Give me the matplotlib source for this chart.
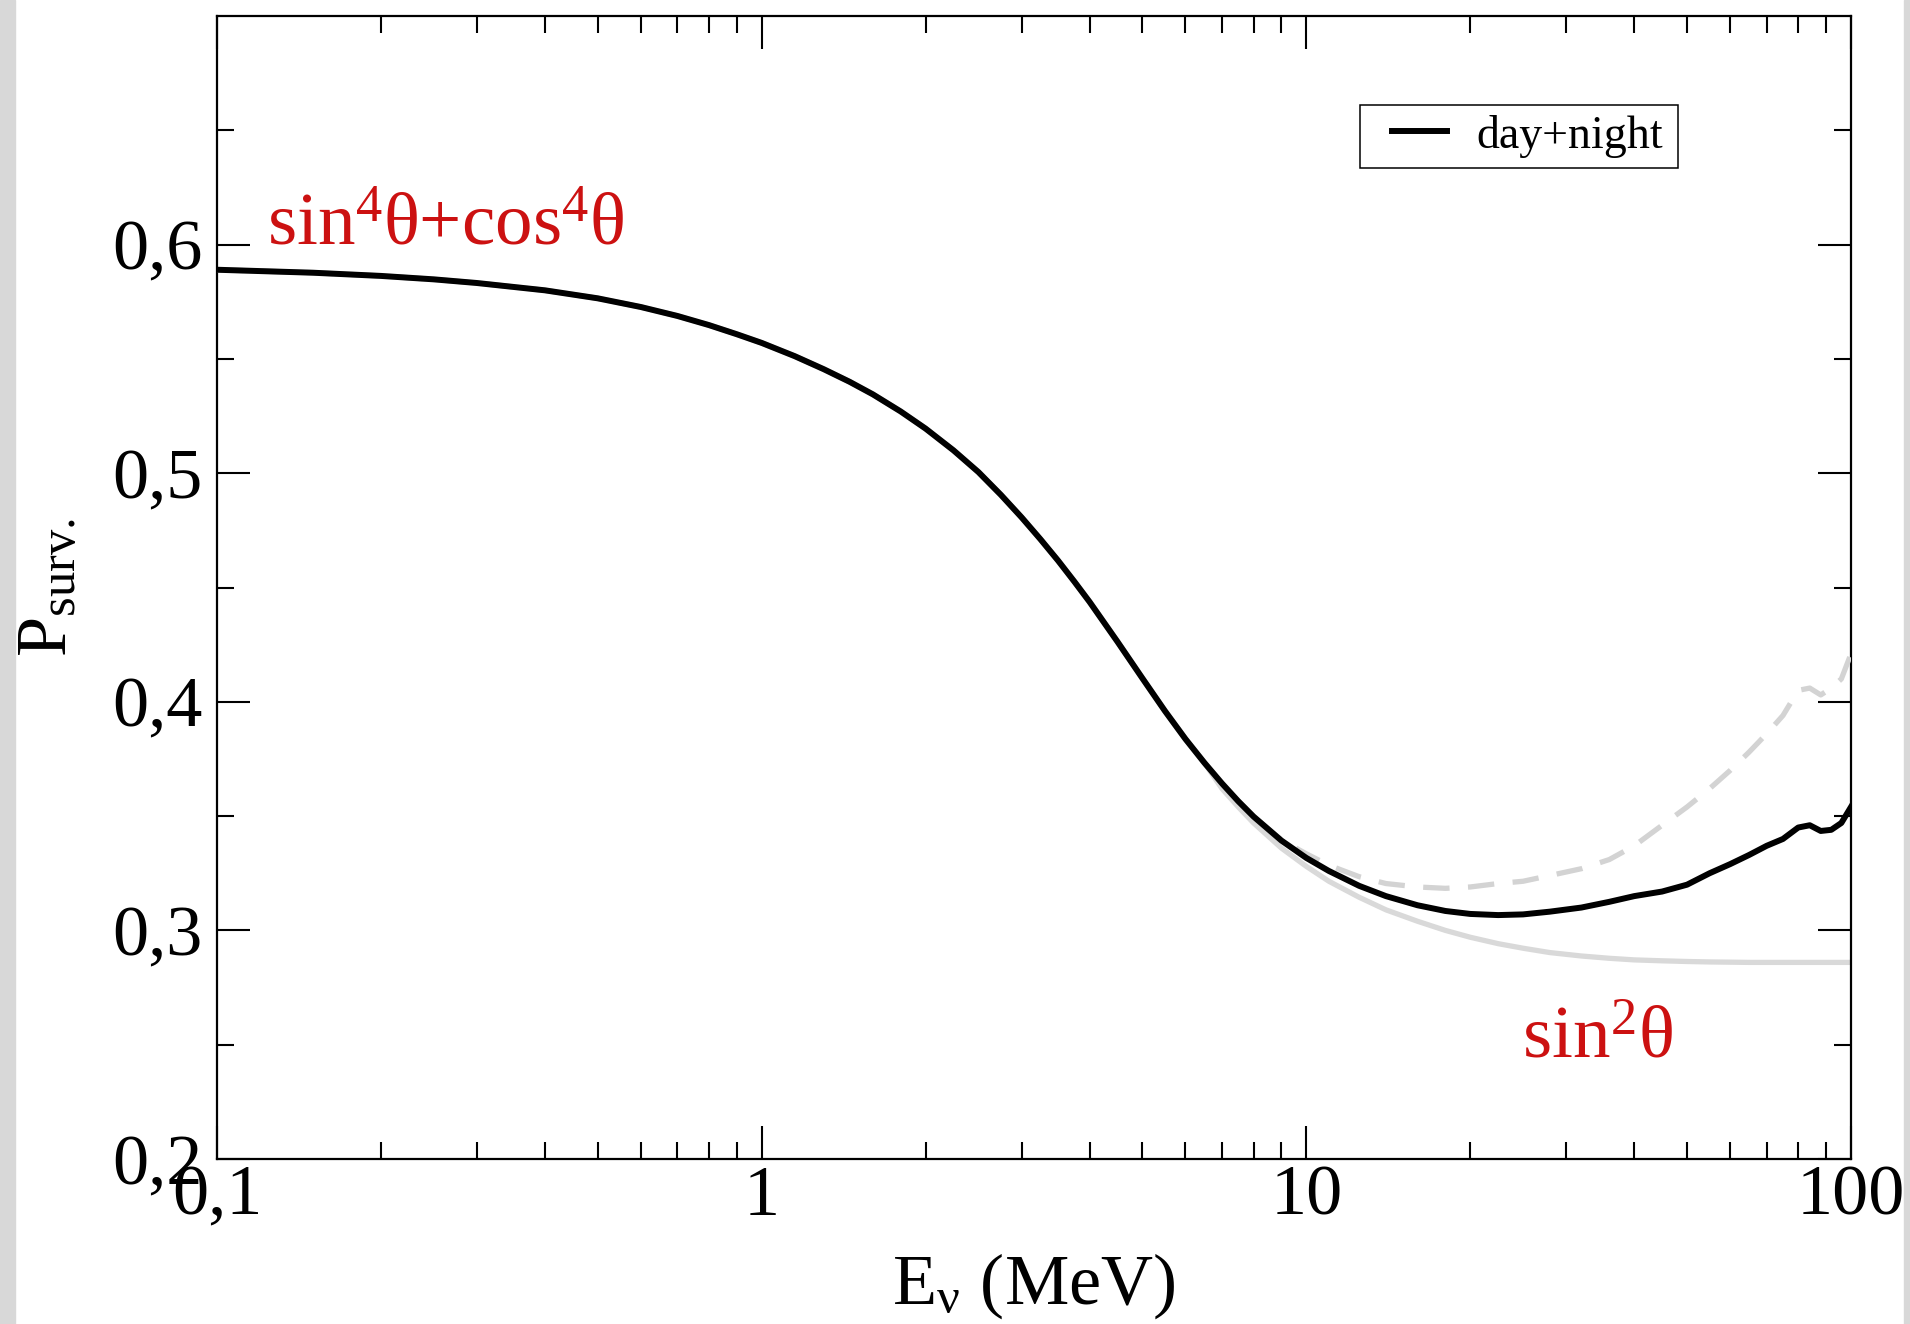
import numpy as np
import matplotlib.pyplot as plt
from matplotlib.patches import Rectangle
from matplotlib.ticker import FixedLocator, NullFormatter

plt.rcParams['font.family'] = ['Liberation Serif', 'DejaVu Serif']
plt.rcParams['mathtext.fontset'] = 'custom'
plt.rcParams['mathtext.rm'] = 'Liberation Serif'
plt.rcParams['mathtext.it'] = 'Liberation Serif'
plt.rcParams['mathtext.bf'] = 'Liberation Serif:bold'

# neutrino energy (MeV)
energy = [0.1, 0.15, 0.2, 0.25, 0.3, 0.4, 0.5, 0.6, 0.7, 0.8,
          0.9, 1.0, 1.15, 1.3, 1.45, 1.6, 1.8, 2.0, 2.25, 2.5,
          2.75, 3.0, 3.25, 3.5, 3.75, 4.0, 4.5, 5.0, 5.5, 6.0,
          6.5, 7.0, 7.5, 8.0, 9.0, 10, 11, 12.5, 14, 16,
          18, 20, 22.5, 25, 28, 32, 36, 40, 45, 50,
          55, 60, 65, 70, 75, 80, 84, 88, 92, 96,
          100]

# survival probability, day+night average (black)
p_day_night = [0.589, 0.5877, 0.5863, 0.5848, 0.5832, 0.5800, 0.5765, 0.5727, 0.5688, 0.5648,
               0.5608, 0.5570, 0.5512, 0.5455, 0.5400, 0.5345, 0.5270, 0.5195, 0.5100, 0.5005,
               0.4905, 0.4807, 0.4711, 0.4618, 0.4526, 0.4437, 0.4263, 0.4103, 0.3960, 0.3837,
               0.3733, 0.3643, 0.3565, 0.3498, 0.3393, 0.3317, 0.3260, 0.3195, 0.3150, 0.3110,
               0.3085, 0.3072, 0.3067, 0.3070, 0.3082, 0.3100, 0.3125, 0.3150, 0.3170, 0.3200,
               0.3250, 0.3290, 0.3330, 0.3370, 0.3400, 0.3450, 0.3460, 0.3435, 0.3440, 0.3470,
               0.3540]

# grey solid: without earth effect
p_no_earth = [0.589, 0.5877, 0.5863, 0.5848, 0.5832, 0.5800, 0.5765, 0.5727, 0.5688, 0.5648,
              0.5608, 0.5570, 0.5512, 0.5455, 0.5400, 0.5345, 0.5270, 0.5195, 0.5100, 0.5005,
              0.4905, 0.4807, 0.4711, 0.4618, 0.4526, 0.4437, 0.4263, 0.4103, 0.3960, 0.3837,
              0.3733, 0.3620, 0.3540, 0.3470, 0.3360, 0.3280, 0.3215, 0.3145, 0.3090, 0.3040,
              0.3000, 0.2970, 0.2942, 0.2922, 0.2903, 0.2888, 0.2878, 0.2871, 0.2867, 0.2864,
              0.2862, 0.2861, 0.2860, 0.2860, 0.2860, 0.2860, 0.2860, 0.2860, 0.2860, 0.2860,
              0.2860]

# grey dashed: night
p_night = [0.589, 0.5877, 0.5863, 0.5848, 0.5832, 0.5800, 0.5765, 0.5727, 0.5688, 0.5648,
           0.5608, 0.5570, 0.5512, 0.5455, 0.5400, 0.5345, 0.5270, 0.5195, 0.5100, 0.5005,
           0.4905, 0.4807, 0.4711, 0.4618, 0.4526, 0.4437, 0.4263, 0.4103, 0.3960, 0.3837,
           0.3733, 0.3643, 0.3565, 0.3498, 0.3395, 0.3335, 0.3285, 0.3235, 0.3205, 0.3190,
           0.3184, 0.3190, 0.3205, 0.3215, 0.3240, 0.3270, 0.3310, 0.3370, 0.3460, 0.3540,
           0.3620, 0.3700, 0.3780, 0.3860, 0.3940, 0.4050, 0.4060, 0.4030, 0.4060, 0.4100,
           0.4210]

y_ticks = [0.2, 0.3, 0.4, 0.5, 0.6]
y_labels = ['0,2', '0,3', '0,4', '0,5', '0,6']
x_ticks = [0.1, 1, 10, 100]
x_labels = ['0,1', '1', '10', '100']

fig = plt.figure(figsize=(19.1, 13.24), dpi=100)
fig.patch.set_facecolor('white')
# textured page border strips
fig.patches.append(Rectangle((0, 0), 15 / 1910, 1, transform=fig.transFigure,
                             color='#d8d8d8', zorder=0))
fig.patches.append(Rectangle((1 - 6 / 1910, 0), 6 / 1910, 1, transform=fig.transFigure,
                             color='#d8d8d8', zorder=0))

ax = fig.add_axes([217 / 1910, 1 - 1159 / 1324, 1634 / 1910, 1143 / 1324])

ax.plot(energy, p_no_earth, color='#d9d9d9', lw=3.8, zorder=2)
ln, = ax.plot(energy, p_night, color='#d3d3d3', lw=3.8, zorder=3)
ln.set_dashes([5, 3.5])
ax.plot(energy, p_day_night, color='black', lw=4.3, zorder=4, label='day+night')

ax.set_xscale('log')
ax.set_xlim(0.1, 100)
ax.set_ylim(0.2, 0.7)

ax.xaxis.set_major_locator(FixedLocator(x_ticks))
ax.set_xticklabels(x_labels)
minors = [m * d for d in [0.1, 1, 10] for m in range(2, 10)]
ax.xaxis.set_minor_locator(FixedLocator(minors))
ax.xaxis.set_minor_formatter(NullFormatter())
ax.yaxis.set_major_locator(FixedLocator(y_ticks))
ax.set_yticklabels(y_labels)
ax.yaxis.set_minor_locator(FixedLocator([0.25, 0.35, 0.45, 0.55, 0.65]))

ax.tick_params(which='both', direction='in', top=True, right=True, width=1.5)
ax.tick_params(which='major', length=24, labelsize=52)
ax.tick_params(which='minor', length=12)
ax.tick_params(axis='x', which='major', pad=4)
ax.tick_params(axis='y', which='major', pad=10)
for s in ax.spines.values():
    s.set_linewidth(1.6)

ax.set_xlabel(r'$\mathrm{E}_{\nu}\ \mathrm{(MeV)}$', fontsize=52, labelpad=16)
ax.set_ylabel(r'$\mathrm{P}_{\mathrm{surv.}}$', fontsize=52, labelpad=22)

ax.text(0.0306, 0.7997, r'$\mathrm{sin}^4\theta\mathrm{+cos}^4\theta$',
        transform=ax.transAxes, color='#cc1111', fontsize=54, va='baseline')
ax.text(0.7987, 0.0884, r'$\mathrm{sin}^2\theta$',
        transform=ax.transAxes, color='#cc1111', fontsize=54, va='baseline')

# legend: frameless legend plus a plain box drawn around it
box = Rectangle((1360 / 1910, 1 - 168 / 1324), 318 / 1910, 63 / 1324,
                transform=fig.transFigure, facecolor='white',
                edgecolor='black', lw=1.1, zorder=5, clip_on=False)
ax.add_patch(box)
leg = ax.legend(loc='center left', bbox_to_anchor=(1392 / 1910, 1 - 136 / 1324),
                bbox_transform=fig.transFigure, fontsize=33, frameon=False,
                borderaxespad=0, borderpad=0, handlelength=1.2, handletextpad=0.65)
leg.set_zorder(6)

fig.savefig('out.png', dpi=100)
